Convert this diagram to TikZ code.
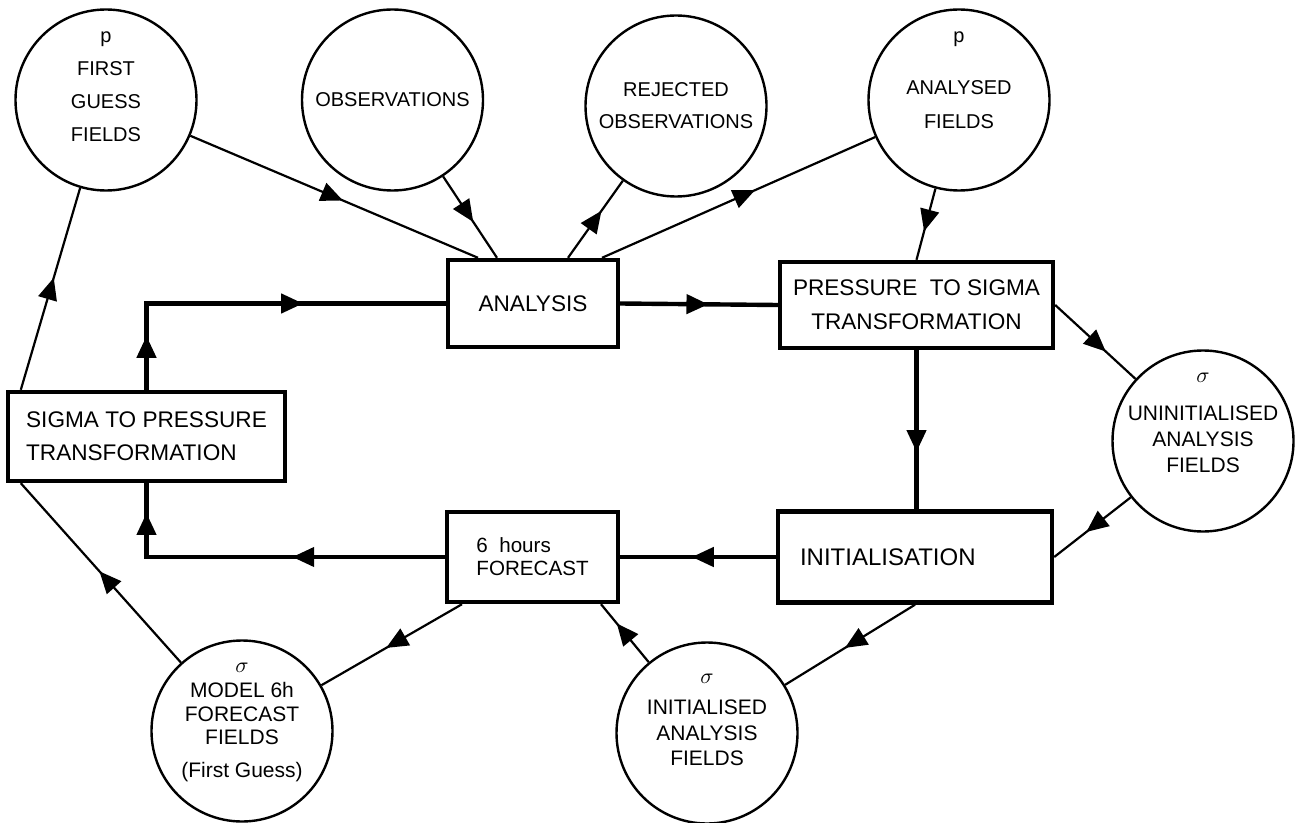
\documentclass[tikz,border=0pt]{standalone}
\usepackage{fontspec}
\setmainfont{Liberation Sans}
\usetikzlibrary{arrows.meta, calc, decorations.markings}

\begin{document}
\begin{tikzpicture}[
    x=0.5pt, y=-0.5pt,
    proc/.style={draw, line width=2.2pt, inner sep=0pt, align=center,
                 font=\fontsize{11.3}{17}\selectfont},
    fld/.style={circle, draw, line width=1.2pt, minimum size=90.5pt,
                inner sep=0pt, align=center,
                font=\fontsize{10}{16}\selectfont},
    txt/.style={inner sep=0pt, align=center},
    flow/.style={line width=2.2pt},
    link/.style={line width=1.1pt},
    midarrow/.style={postaction={decorate, decoration={markings,
        mark=at position #1 with {\arrow{Triangle[length=11pt, width=9.5pt]}}}}}
  ]
  \useasboundingbox (0,0) rectangle (1304,823);

  % Process boxes
  \node[proc, minimum width=85pt, minimum height=43.5pt] (ana) at (533,303.5) {ANALYSIS};
  \node[proc, minimum width=136.5pt, minimum height=43pt] (pts) at (916.5,305)
    {PRESSURE\ \ TO SIGMA\\TRANSFORMATION};
  \node[proc, minimum width=138.5pt, minimum height=44.5pt, align=left,
        font=\fontsize{11.3}{16.5}\selectfont] (stp) at (146.5,436.5)
    {SIGMA TO PRESSURE\\TRANSFORMATION};
  \node[proc, minimum width=85.5pt, minimum height=45pt, align=left,
        font=\fontsize{10.3}{11.5}\selectfont] (fc) at (532.5,557)
    {6\ \ hours\\FORECAST};
  \node[proc, minimum width=137pt, minimum height=45.5pt, text width=115pt,
        align=left, font=\fontsize{12}{14}\selectfont] (ini) at (915,557)
    {INITIALISATION};

  % Field circles
  \node[fld] (fg) at (106,100) {};
  \node[txt, font=\fontsize{10}{16.5}\selectfont] (fg-txt) at (106,87)
    {p\\FIRST\\GUESS\\FIELDS};
  \node[fld] (obs) at (392.5,100) {OBSERVATIONS};
  \node[fld] (rej) at (676,106) {REJECTED\\OBSERVATIONS};
  \node[fld] (anf) at (959,100) {};
  \node[txt, font=\fontsize{10}{17}\selectfont] (anf-txt) at (959,80)
    {p\\[9.25pt]ANALYSED\\FIELDS};
  \node[fld] (uni) at (1203,441) {};
  \node[txt, font=\fontsize{10.5}{13}\selectfont] (uni-txt) at (1203,423)
    {$\sigma$\\[5.75pt]UNINITIALISED\\ANALYSIS\\FIELDS};
  \node[fld] (mod) at (242,731) {};
  \node[txt, font=\fontsize{10.5}{11.75}\selectfont] (mod-txt) at (242,722)
    {$\sigma$\\[1pt]MODEL 6h\\FORECAST\\FIELDS\\[4.5pt](First Guess)};
  \node[fld] (inic) at (707,733) {};
  \node[txt, font=\fontsize{10.5}{12.75}\selectfont] (inic-txt) at (707,720)
    {$\sigma$\\[3pt]INITIALISED\\ANALYSIS\\FIELDS};

  % Main cycle
  \draw[flow, midarrow=0.14, midarrow=0.63] (stp.north) |- (ana.west);
  \draw[flow, midarrow=0.56] (ana.east) -- (pts.west);
  \draw[flow, midarrow=0.64] (pts.south) -- (pts.south |- ini.north);
  \draw[flow, midarrow=0.54] (ini.west) -- (fc.east);
  \draw[flow, midarrow=0.41, midarrow=0.92] (fc.west) -| (stp.south);

  % Field links
  \draw[link, midarrow=0.53] (fg) -- ($(ana.north)+(-55,0)$);
  \draw[link, midarrow=0.56] (obs) -- ($(ana.north)+(-36,0)$);
  \draw[link, midarrow=0.61] ($(ana.north)+(35,0)$) -- (rej);
  \draw[link, midarrow=0.56] ($(ana.north)+(69,0)$) -- (anf);
  \draw[link, midarrow=0.6] (anf) -- (pts.north);
  \draw[link, midarrow=0.63] (pts.east) -- (uni);
  \draw[link, midarrow=0.58] (uni) -- (ini.east);
  \draw[link, midarrow=0.54] (ini.south) -- (inic);
  \draw[link, midarrow=0.67] (inic) -- ($(fc.south)+(68.5,0)$);
  \draw[link, midarrow=0.54] ($(fc.south)+(-70.5,0)$) -- (mod);
  \draw[link, midarrow=0.51] (mod) -- ($(stp.south west)+(15,0)$);
  \draw[link, midarrow=0.555] ($(stp.north west)+(15,0)$) -- (fg);
\end{tikzpicture}
\end{document}
